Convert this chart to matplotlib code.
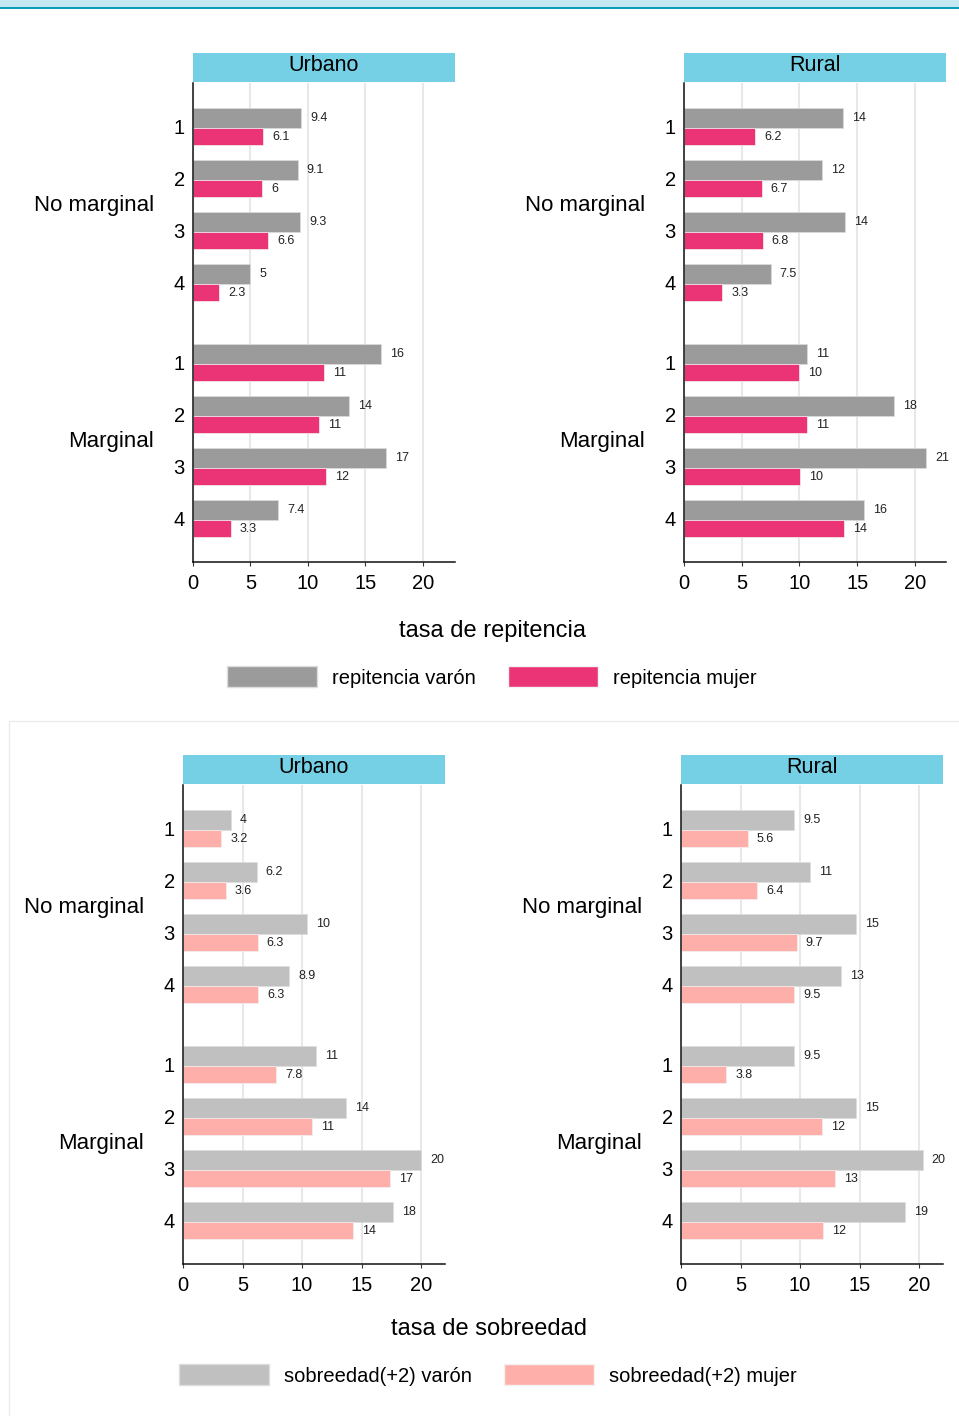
import matplotlib
matplotlib.use("Agg")
from matplotlib import pyplot as plt
from matplotlib.patches import Rectangle

plt.rcParams['font.family'] = ['Liberation Sans', 'DejaVu Sans']

W, H = 959, 1416   # figure size in pixels (dpi 100)

groups = ["No marginal", "Marginal"]
quintiles = ["1", "2", "3", "4"]

# tasa de repitencia (No marginal 1-4, Marginal 1-4)
rep_urbano_varon = [9.44, 9.1, 9.3, 4.97, 16.4, 13.6, 16.8, 7.4]
rep_urbano_mujer = [6.1, 6.0, 6.56, 2.3, 11.4, 11.0, 11.6, 3.3]
rep_rural_varon = [13.8, 11.95, 13.95, 7.52, 10.65, 18.2, 20.95, 15.6]
rep_rural_mujer = [6.17, 6.72, 6.82, 3.3, 10.0, 10.65, 10.03, 13.85]

# tasa de sobreedad (No marginal 1-4, Marginal 1-4)
sob_urbano_varon = [4.0, 6.2, 10.4, 8.9, 11.2, 13.7, 20.0, 17.6]
sob_urbano_mujer = [3.2, 3.6, 6.27, 6.3, 7.8, 10.8, 17.4, 14.3]
sob_rural_varon = [9.53, 10.8, 14.7, 13.4, 9.5, 14.7, 20.3, 18.8]
sob_rural_mujer = [5.6, 6.4, 9.7, 9.5, 3.8, 11.85, 12.9, 11.9]

STRIP = '#76D0E5'
GRAY_TOP, PINK_TOP = '#9B9B9B', '#EB3476'
GRAY_BOT, PINK_BOT = '#C0C0C0', '#FFAFAA'

# row positions: 4 rows per group, extra gap between groups
pos = [0, 1, 2, 3, 4.54, 5.54, 6.54, 7.54]


def fmt(v):
    return '%.2g' % v


def panel(fig, left, top, title, varon, mujer, c_v, c_m, xmax):
    # left/top in pixels of the plotting area
    w, h = 262, 479
    ax = fig.add_axes([left / W, 1 - (top + h) / H, w / W, h / H])
    strip = fig.add_axes([left / W, 1 - (top - 1) / H, w / W, 29 / H])
    strip.set_facecolor(STRIP)
    strip.set_xticks([])
    strip.set_yticks([])
    for s in strip.spines.values():
        s.set_visible(False)
    strip.text(0.5, 0.56, title, ha='center', va='center', fontsize=15.5,
               transform=strip.transAxes)

    yv = [p - 0.155 for p in pos]
    ym = [p + 0.2 for p in pos]
    ax.barh(yv, varon, height=0.39, color=c_v, edgecolor='#DDDDDD', linewidth=0.5)
    ax.barh(ym, mujer, height=0.32, color=c_m, edgecolor='#F2F2F2', linewidth=0.5)
    for y, v in zip(yv, varon):
        ax.annotate(fmt(v), (v, y), xytext=(6.5, 0), textcoords='offset points',
                    va='center', ha='left', fontsize=9, color='#222222')
    for y, v in zip(ym, mujer):
        ax.annotate(fmt(v), (v, y), xytext=(6.5, 0), textcoords='offset points',
                    va='center', ha='left', fontsize=9, color='#222222')

    ax.set_xlim(0, xmax)
    ax.set_ylim(8.38, -0.83)
    ax.set_xticks([0, 5, 10, 15, 20])
    ax.set_yticks(pos, quintiles * 2)
    ax.tick_params(axis='y', length=0, pad=6, labelsize=14.5)
    ax.tick_params(axis='x', length=3, width=0.8, color='#333333', pad=5.5, labelsize=14.5)
    ax.xaxis.grid(True, color='#E8E8E8', linewidth=1.5)
    ax.set_axisbelow(True)
    for s in ['top', 'right']:
        ax.spines[s].set_visible(False)
    for s in ['left', 'bottom']:
        ax.spines[s].set_linewidth(1.1)
        ax.spines[s].set_color('#111111')

    for g, name in enumerate(groups):
        yc = (pos[4 * g + 1] + pos[4 * g + 2]) / 2
        ax.annotate(name, (0, yc + 0.03), xycoords=('axes fraction', 'data'),
                    xytext=(-39 * 0.72, 0), textcoords='offset points',
                    ha='right', va='center', fontsize=16)
    return ax


fig = plt.figure(figsize=(W / 100, H / 100), dpi=100)

# header band on top
fig.patches.append(Rectangle((0, 1 - 7 / H), 1, 7 / H, transform=fig.transFigure,
                             facecolor='#C6E8F2', edgecolor='none'))
fig.patches.append(Rectangle((0, 1 - 9 / H), 1, 2 / H, transform=fig.transFigure,
                             facecolor='#0E9DB8', edgecolor='none'))
# faint frame around lower chart
fig.patches.append(Rectangle((9 / W, -0.01), 1, 1 - 721 / H + 0.01,
                             transform=fig.transFigure, facecolor='none',
                             edgecolor='#EBEBEB', linewidth=1))

# --- repitencia ---
panel(fig, 193, 83, "Urbano", rep_urbano_varon, rep_urbano_mujer,
      GRAY_TOP, PINK_TOP, 22.8)
panel(fig, 684, 83, "Rural", rep_rural_varon, rep_rural_mujer,
      GRAY_TOP, PINK_TOP, 22.7)
fig.text(492 / W, 1 - 631 / H, "tasa de repitencia", ha='center', va='center',
         fontsize=17)
h_v = Rectangle((0, 0), 1, 1, facecolor=GRAY_TOP, edgecolor='#DDDDDD')
h_m = Rectangle((0, 0), 1, 1, facecolor=PINK_TOP, edgecolor='#F2F2F2')
fig.legend([h_v, h_m], ["repitencia varón", "repitencia mujer"], ncol=2,
           loc='center', bbox_to_anchor=(492 / W, 1 - 677 / H), frameon=False,
           fontsize=14.5, handlelength=4.47, handleheight=1.19,
           handletextpad=0.75, columnspacing=1.6)

# --- sobreedad ---
panel(fig, 183, 785, "Urbano", sob_urbano_varon, sob_urbano_mujer,
      GRAY_BOT, PINK_BOT, 22.0)
panel(fig, 681, 785, "Rural", sob_rural_varon, sob_rural_mujer,
      GRAY_BOT, PINK_BOT, 22.0)
fig.text(489 / W, 1 - 1329 / H, "tasa de sobreedad", ha='center', va='center',
         fontsize=17)
h_v2 = Rectangle((0, 0), 1, 1, facecolor=GRAY_BOT, edgecolor='#DDDDDD')
h_m2 = Rectangle((0, 0), 1, 1, facecolor=PINK_BOT, edgecolor='#F2F2F2')
fig.legend([h_v2, h_m2], ["sobreedad(+2) varón", "sobreedad(+2) mujer"], ncol=2,
           loc='center', bbox_to_anchor=(488 / W, 1 - 1375 / H), frameon=False,
           fontsize=14.5, handlelength=4.47, handleheight=1.19,
           handletextpad=0.75, columnspacing=1.6)

fig.savefig("out.png", dpi=100)
